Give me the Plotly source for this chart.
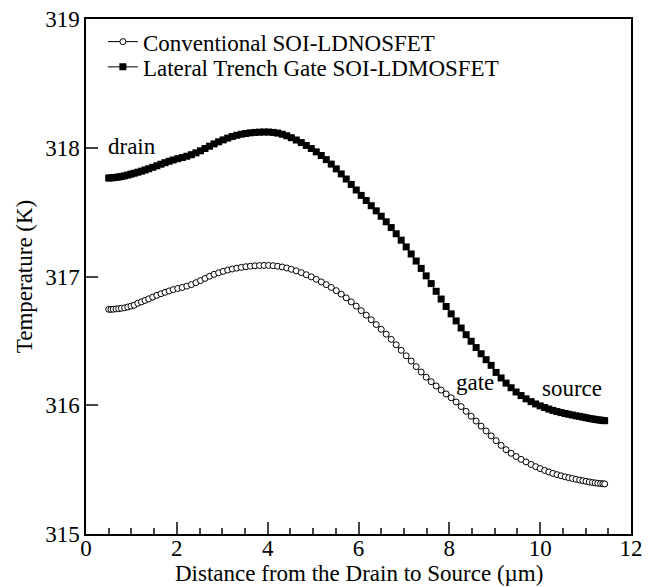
import plotly.graph_objects as go

# distance from drain to source (um), shared mesh for both series
distance = [
    0.50, 0.55, 0.60, 0.66, 0.72, 0.78, 0.85, 0.92, 0.99, 1.06,
    1.14, 1.22, 1.30, 1.38, 1.47, 1.56, 1.65, 1.74, 1.83, 1.92,
    2.02, 2.12, 2.22, 2.32, 2.42, 2.52, 2.62, 2.72, 2.82, 2.92,
    3.02, 3.12, 3.22, 3.32, 3.42, 3.52, 3.62, 3.72, 3.82, 3.92,
    4.02, 4.12, 4.22, 4.32, 4.42, 4.52, 4.63, 4.74, 4.85, 4.96,
    5.07, 5.18, 5.29, 5.40, 5.51, 5.62, 5.73, 5.84, 5.95, 6.06,
    6.17, 6.28, 6.39, 6.50, 6.61, 6.72, 6.83, 6.94, 7.05, 7.16,
    7.27, 7.38, 7.49, 7.60, 7.71, 7.82, 7.93, 8.04, 8.15, 8.26,
    8.37, 8.48, 8.59, 8.70, 8.81, 8.92, 9.03, 9.14, 9.25, 9.36,
    9.47, 9.58, 9.69, 9.80, 9.90, 10.00, 10.10, 10.19, 10.28, 10.37,
    10.46, 10.55, 10.63, 10.71, 10.79, 10.87, 10.94, 11.01, 11.08, 11.15,
    11.21, 11.27, 11.33, 11.38, 11.42,
]

temp_conventional = [
    316.745, 316.745, 316.746, 316.748, 316.750, 316.753, 316.757, 316.763, 316.770, 316.777,
    316.792, 316.803, 316.814, 316.826, 316.840, 316.854, 316.866, 316.877, 316.888, 316.898,
    316.907, 316.915, 316.925, 316.937, 316.952, 316.968, 316.985, 317.002, 317.017, 317.029,
    317.040, 317.050, 317.058, 317.065, 317.071, 317.076, 317.080, 317.083, 317.085, 317.086,
    317.086, 317.084, 317.080, 317.074, 317.066, 317.056, 317.044, 317.030, 317.014, 316.997,
    316.978, 316.958, 316.937, 316.915, 316.890, 316.863, 316.834, 316.803, 316.770, 316.735,
    316.700, 316.664, 316.627, 316.590, 316.552, 316.512, 316.470, 316.427, 316.384, 316.343,
    316.300, 316.258, 316.218, 316.183, 316.150, 316.118, 316.088, 316.058, 316.025, 315.990,
    315.953, 315.915, 315.877, 315.838, 315.800, 315.762, 315.725, 315.688, 315.655, 315.627,
    315.602, 315.580, 315.560, 315.540, 315.523, 315.508, 315.494, 315.482, 315.471, 315.461,
    315.452, 315.444, 315.437, 315.431, 315.425, 315.419, 315.414, 315.409, 315.404, 315.400,
    315.397, 315.394, 315.392, 315.390, 315.389,
]

temp_trench = [
    317.765, 317.766, 317.768, 317.770, 317.773, 317.777, 317.782, 317.788, 317.795, 317.802,
    317.810, 317.818, 317.827, 317.837, 317.848, 317.860, 317.872, 317.884, 317.895, 317.905,
    317.915, 317.924, 317.934, 317.946, 317.960, 317.976, 317.994, 318.012, 318.030, 318.046,
    318.061, 318.075, 318.087, 318.097, 318.105, 318.111, 318.116, 318.119, 318.121, 318.122,
    318.122, 318.119, 318.114, 318.105, 318.093, 318.078, 318.060, 318.040, 318.018, 317.994,
    317.968, 317.940, 317.908, 317.873, 317.836, 317.797, 317.757, 317.715, 317.672, 317.630,
    317.590, 317.550, 317.510, 317.468, 317.425, 317.380, 317.332, 317.282, 317.230, 317.175,
    317.120, 317.063, 317.005, 316.945, 316.885, 316.825, 316.767, 316.710, 316.655, 316.600,
    316.548, 316.497, 316.448, 316.400, 316.354, 316.310, 316.255, 316.212, 316.172, 316.136,
    316.103, 316.075, 316.050, 316.028, 316.010, 315.995, 315.982, 315.970, 315.960, 315.951,
    315.943, 315.936, 315.930, 315.924, 315.918, 315.913, 315.908, 315.903, 315.898, 315.894,
    315.890, 315.887, 315.884, 315.882, 315.880,
]

series_names = ["Conventional SOI-LDNOSFET", "Lateral Trench Gate SOI-LDMOSFET"]

labels_text = ["drain", "gate", "source"]
labels_x = [0.45, 8.56, 10.69]
labels_y = [318.01, 316.18, 316.13]

x_title = "Distance from the Drain to Source (µm)"
y_title = "Temperature (K)"

SERIF = "Liberation Serif"
FS = 23

fig = go.Figure()
fig.add_trace(go.Scatter(
    x=distance, y=temp_conventional, name=series_names[0], mode="lines+markers",
    line=dict(color="black", width=1), legend="legend",
    marker=dict(symbol="circle", size=6, color="white", line=dict(color="black", width=1)),
))
fig.add_trace(go.Scatter(
    x=distance, y=temp_trench, name=series_names[1], mode="lines+markers",
    line=dict(color="black", width=1), legend="legend2",
    marker=dict(symbol="square", size=7, color="black", line=dict(width=0)),
))

for t, xx, yy in zip(labels_text, labels_x, labels_y):
    fig.add_annotation(x=xx, y=yy, text=t, showarrow=False,
                       xanchor="left" if t == "drain" else "center", yanchor="middle",
                       font=dict(family=SERIF, size=FS, color="black"))

# x-axis title (paper annotation, bottom of its box at the page edge)
fig.add_annotation(x=0.5, y=-0.102, xref="paper", yref="paper", text=x_title,
                   showarrow=False, xanchor="center", yanchor="bottom", borderpad=0,
                   font=dict(family=SERIF, size=FS, color="black"))

legend_common = dict(x=0.031, xanchor="left", yanchor="middle",
                     bgcolor="rgba(0,0,0,0)", borderwidth=0,
                     font=dict(family=SERIF, size=FS, color="black"),
                     tracegroupgap=0, itemwidth=30)

fig.update_layout(
    width=655, height=587,
    margin=dict(l=86, r=24, t=19, b=53),
    paper_bgcolor="white", plot_bgcolor="white",
    font=dict(family=SERIF, size=FS, color="black"),
    showlegend=True,
    legend=dict(y=0.956, **legend_common),
    legend2=dict(y=0.907, **legend_common),
)
fig.update_xaxes(
    range=[0, 12], dtick=2, tick0=0, ticks="inside", ticklen=12, tickwidth=1.5,
    showline=True, linecolor="black", linewidth=1.5, mirror=True,
    showgrid=False, zeroline=False, automargin=False, ticklabelstandoff=-7,
    minor=dict(dtick=0.5, ticks="inside", ticklen=6, tickwidth=1.5, showgrid=False),
    tickfont=dict(family=SERIF, size=FS, color="black"),
)
fig.update_yaxes(
    range=[315, 319], dtick=1, ticks="inside", ticklen=12, tickwidth=1.5,
    showline=True, linecolor="black", linewidth=1.5, mirror=True,
    showgrid=False, zeroline=False, automargin=False,
    title=dict(text=y_title, standoff=6,
               font=dict(family=SERIF, size=FS, color="black")),
    tickfont=dict(family=SERIF, size=FS, color="black"),
)

fig.write_html("out.html")
